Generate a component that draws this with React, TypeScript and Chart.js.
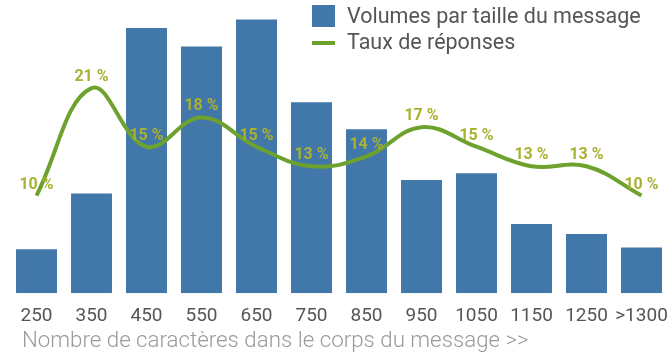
import React, { useEffect, useRef } from "react";
import { Chart, registerables } from "chart.js";

Chart.register(...registerables);

const categories = ["250", "350", "450", "550", "650", "750", "850", "950", "1050", "1150", "1250", ">1300"];
const volumes = [2.6, 5.9, 15.7, 14.6, 16.2, 11.3, 9.7, 6.7, 7.1, 4.1, 3.5, 2.7];
const responseRates = [10, 21, 15, 18, 15, 13, 14, 17, 15, 13, 13, 10];
const legendLabels = ["Volumes par taille du message", "Taux de réponses"];
const axisTitle = "Nombre de caractères dans le corps du message >>";

const BAR_COLOR = "#4277a9";
const LINE_COLOR = "#6ea22e";
const LABEL_COLOR = "#a9b131";
const TEXT_COLOR = "#555555";

const overlayPlugin = {
  id: "overlay",
  afterDatasetsDraw(chart: any) {
    const ctx = chart.ctx;
    const meta = chart.getDatasetMeta(1);
    ctx.save();
    ctx.font = "bold 16px Roboto";
    ctx.fillStyle = LABEL_COLOR;
    ctx.textAlign = "center";
    ctx.textBaseline = "middle";
    meta.data.forEach((pt: any, i: number) => {
      ctx.fillText(`${responseRates[i]} %`, pt.x, pt.y - 11);
    });
    ctx.restore();
  },
  afterDraw(chart: any) {
    const ctx = chart.ctx;
    ctx.save();
    // legend
    ctx.fillStyle = BAR_COLOR;
    ctx.fillRect(312, 5, 23, 22);
    ctx.strokeStyle = LINE_COLOR;
    ctx.lineWidth = 4;
    ctx.beginPath();
    ctx.moveTo(312, 43);
    ctx.lineTo(335, 43);
    ctx.stroke();
    ctx.fillStyle = TEXT_COLOR;
    ctx.font = "21.5px Roboto";
    ctx.textAlign = "left";
    ctx.textBaseline = "middle";
    ctx.fillText(legendLabels[0], 347, 18);
    ctx.fillText(legendLabels[1], 347, 44);
    // axis title
    ctx.fillStyle = "#9a9a9a";
    ctx.font = "300 22.3px Roboto";
    ctx.fillText(axisTitle, 22, 341);
    ctx.restore();
  },
};

export default function App() {
  const ref = useRef<HTMLCanvasElement | null>(null);
  useEffect(() => {
    if (!ref.current) return;
    const chart = new Chart(ref.current, {
      type: "bar",
      data: {
        labels: categories,
        datasets: [
          {
            type: "bar",
            label: legendLabels[0],
            data: volumes,
            backgroundColor: BAR_COLOR,
            categoryPercentage: 1,
            barPercentage: 0.745,
            yAxisID: "y",
            order: 2,
          },
          {
            type: "line",
            label: legendLabels[1],
            data: responseRates,
            borderColor: LINE_COLOR,
            borderWidth: 4,
            pointRadius: 0,
            tension: 0.4,
            fill: false,
            yAxisID: "y1",
            order: 1,
          },
        ] as any,
      },
      options: {
        animation: false,
        responsive: true,
        maintainAspectRatio: false,
        layout: { padding: { left: 9, right: 1, top: 10, bottom: 27 } },
        plugins: { legend: { display: false }, tooltip: { enabled: false } },
        scales: {
          x: {
            grid: { display: false, drawTicks: true, tickLength: 12 },
            border: { display: false },
            ticks: {
              color: TEXT_COLOR,
              font: { family: "Roboto", size: 19 },
              padding: 0,
              maxRotation: 0,
              autoSkip: false,
            },
          },
          y: { display: false, min: 0, max: 16.76 },
          y1: { display: false, min: 0, max: 29.0 },
        },
      },
      plugins: [overlayPlugin],
    });
    return () => chart.destroy();
  }, []);
  return (
    <div style={{ position: "fixed", left: 0, top: 0, width: 670, height: 355, background: "#fff" }}>
      <canvas ref={ref} />
    </div>
  );
}
